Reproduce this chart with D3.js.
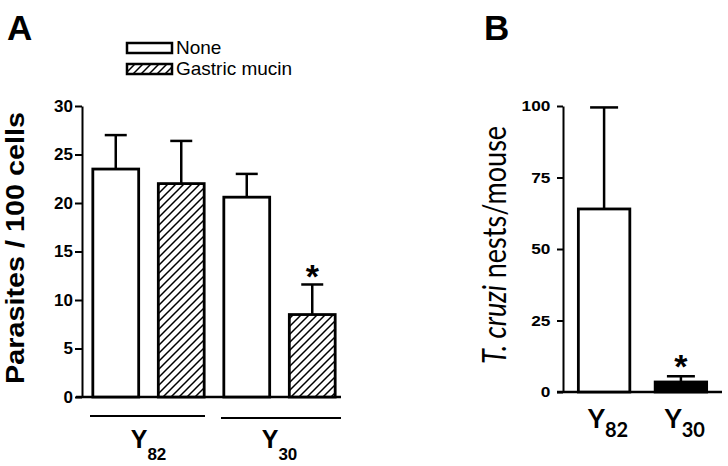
<!DOCTYPE html>
<html>
<head>
<meta charset="utf-8">
<script src="https://cdn.jsdelivr.net/npm/d3@7"></script>
<style>
  body { margin: 0; background: #fff; }
  svg { display: block; }
  .axA path, .axA line, .axB path, .axB line { stroke: #000; stroke-width: 2; }
</style>
</head>
<body>
<div id="chart"></div>
<script>
// panel A data
var groupsA = ["Y82", "Y30"];
var treatments = ["None", "Gastric mucin"];
var noneMean = [23.5, 20.6];
var noneErr = [3.5, 2.4];
var mucinMean = [22.0, 8.5];
var mucinErr = [4.4, 3.1];
var sigA = [false, true]; // star only over mucin/Y30
var ticksA = [0, 5, 10, 15, 20, 25, 30];

// panel B data
var strainsB = ["Y82", "Y30"];
var nestsMean = [64, 3.5];
var nestsErr = [35.5, 2.0];
var sigB = [false, true];
var ticksB = [0, 25, 50, 75, 100];

var svg = d3.select("#chart").append("svg")
  .attr("width", 728)
  .attr("height", 466);

var defs = svg.append("defs");
var pat = defs.append("pattern")
  .attr("id", "hatch")
  .attr("patternUnits", "userSpaceOnUse")
  .attr("width", 8)
  .attr("height", 8);
pat.append("rect").attr("width", 8).attr("height", 8).attr("fill", "#fff");
pat.append("path")
  .attr("d", "M-2,2 l4,-4 M0,8 l8,-8 M6,10 l4,-4")
  .attr("stroke", "#000")
  .attr("stroke-width", 1.5);

// ---------------- Panel A ----------------
var rowsA = [];
groupsA.forEach(function (g, i) {
  rowsA.push({ group: g, trt: "None", mean: noneMean[i], err: noneErr[i], sig: false });
  rowsA.push({ group: g, trt: "Gastric mucin", mean: mucinMean[i], err: mucinErr[i], sig: sigA[i] });
});

var yA = d3.scaleLinear().domain([0, 30]).range([397, 106]);
var x0 = d3.scaleBand().domain(groupsA).range([83, 345]);
var x1 = d3.scaleBand().domain(treatments).range([0, x0.bandwidth()])
  .paddingInner(0.3).paddingOuter(0.15);

var gA = svg.append("g");

gA.append("g")
  .attr("class", "axA")
  .attr("transform", "translate(82,0)")
  .call(d3.axisLeft(yA).tickValues(ticksA).tickSize(7).tickSizeOuter(0).tickPadding(2))
  .attr("font-size", 17)
  .attr("font-weight", "bold")
  .attr("font-family", "Liberation Sans, Arial, sans-serif")
  .selectAll("text").attr("fill", "#000");

gA.append("line")
  .attr("x1", 76).attr("x2", 341)
  .attr("y1", yA(0)).attr("y2", yA(0))
  .attr("stroke", "#000").attr("stroke-width", 2.5);

var barsA = gA.selectAll(".barA").data(rowsA).enter().append("g");

// error bars (upper only)
barsA.append("line")
  .attr("x1", d => x0(d.group) + x1(d.trt) + x1.bandwidth() / 2)
  .attr("x2", d => x0(d.group) + x1(d.trt) + x1.bandwidth() / 2)
  .attr("y1", d => yA(d.mean))
  .attr("y2", d => yA(d.mean + d.err))
  .attr("stroke", "#000").attr("stroke-width", 2.5);
barsA.append("line")
  .attr("x1", d => x0(d.group) + x1(d.trt) + x1.bandwidth() / 2 - 11)
  .attr("x2", d => x0(d.group) + x1(d.trt) + x1.bandwidth() / 2 + 11)
  .attr("y1", d => yA(d.mean + d.err))
  .attr("y2", d => yA(d.mean + d.err))
  .attr("stroke", "#000").attr("stroke-width", 2.5);

barsA.append("rect")
  .attr("x", d => x0(d.group) + x1(d.trt))
  .attr("y", d => yA(d.mean))
  .attr("width", x1.bandwidth())
  .attr("height", d => yA(0) - yA(d.mean))
  .attr("fill", d => d.trt === "None" ? "#fff" : "url(#hatch)")
  .attr("stroke", "#000")
  .attr("stroke-width", 2.8);

barsA.filter(d => d.sig).append("text")
  .attr("x", d => x0(d.group) + x1(d.trt) + x1.bandwidth() / 2)
  .attr("y", d => yA(d.mean + d.err) + 4)
  .attr("text-anchor", "middle")
  .style("font-family", "Liberation Sans, Arial, sans-serif")
  .style("font-weight", "bold")
  .style("font-size", "34px")
  .text("*");

// group underlines and labels
var grpA = gA.selectAll(".grpA").data(groupsA).enter().append("g");
grpA.append("line")
  .attr("x1", d => x0(d) + 7)
  .attr("x2", (d, i) => x0(d) + (i === 0 ? 122 : 127))
  .attr("y1", (d, i) => 416 + i * 2)
  .attr("y2", (d, i) => 416 + i * 2)
  .attr("stroke", "#000").attr("stroke-width", 2);
var labA = grpA.append("text")
  .attr("x", d => x0(d) + x0.bandwidth() / 2)
  .attr("y", 448)
  .attr("text-anchor", "middle")
  .style("font-family", "Liberation Sans, Arial, sans-serif")
  .style("font-weight", "bold");
labA.append("tspan").style("font-size", "25px").text("Y");
labA.append("tspan").style("font-size", "17px").attr("dy", 12).text(d => d.slice(1));

gA.append("text")
  .attr("transform", "translate(24,248) rotate(-90)")
  .attr("text-anchor", "middle")
  .attr("textLength", 272)
  .attr("lengthAdjust", "spacingAndGlyphs")
  .style("font-family", "Liberation Sans, Arial, sans-serif")
  .style("font-weight", "bold")
  .style("font-size", "25px")
  .text("Parasites / 100 cells");

// legend
var leg = gA.selectAll(".leg").data(treatments).enter().append("g")
  .attr("transform", (d, i) => "translate(127," + (43 + i * 21) + ")");
leg.append("rect")
  .attr("width", 45).attr("height", 10)
  .attr("fill", d => d === "None" ? "#fff" : "url(#hatch)")
  .attr("stroke", "#000").attr("stroke-width", 2.5);
leg.append("text")
  .attr("x", 49).attr("y", 11)
  .style("font-family", "Liberation Sans, Arial, sans-serif")
  .style("font-size", "19px")
  .text(d => d);

svg.append("text")
  .attr("x", 7).attr("y", 40)
  .style("font-family", "Liberation Sans, Arial, sans-serif")
  .style("font-weight", "bold")
  .style("font-size", "35px")
  .text("A");

// ---------------- Panel B ----------------
var yB = d3.scaleLinear().domain([0, 100]).range([392, 106]);
var xB = d3.scaleBand().domain(strainsB).range([563, 722])
  .paddingInner(0.33).paddingOuter(0.2);

var gB = svg.append("g");

gB.append("g")
  .attr("class", "axB")
  .attr("transform", "translate(563,0)")
  .call(d3.axisLeft(yB).tickValues(ticksB).tickSize(6).tickSizeOuter(0).tickPadding(5))
  .attr("font-size", 15)
  .attr("font-weight", "bold")
  .attr("font-family", "Liberation Sans, Arial, sans-serif")
  .selectAll("text")
  .attr("fill", "#000")
  .attr("transform", "scale(1.15,1)");

gB.append("line")
  .attr("x1", 557).attr("x2", 722)
  .attr("y1", yB(0)).attr("y2", yB(0))
  .attr("stroke", "#000").attr("stroke-width", 2.5);

var rowsB = strainsB.map((s, i) => ({ strain: s, mean: nestsMean[i], err: nestsErr[i], sig: sigB[i] }));
var barsB = gB.selectAll(".barB").data(rowsB).enter().append("g");

barsB.append("line")
  .attr("x1", d => xB(d.strain) + xB.bandwidth() / 2)
  .attr("x2", d => xB(d.strain) + xB.bandwidth() / 2)
  .attr("y1", d => yB(d.mean))
  .attr("y2", d => yB(d.mean + d.err))
  .attr("stroke", "#000").attr("stroke-width", 2.5);
barsB.append("line")
  .attr("x1", d => xB(d.strain) + xB.bandwidth() / 2 - 14)
  .attr("x2", d => xB(d.strain) + xB.bandwidth() / 2 + 14)
  .attr("y1", d => yB(d.mean + d.err))
  .attr("y2", d => yB(d.mean + d.err))
  .attr("stroke", "#000").attr("stroke-width", 2.5);

barsB.append("rect")
  .attr("x", d => xB(d.strain))
  .attr("y", d => yB(d.mean))
  .attr("width", xB.bandwidth())
  .attr("height", d => yB(0) - yB(d.mean))
  .attr("fill", (d, i) => i === 0 ? "#fff" : "#000")
  .attr("stroke", "#000")
  .attr("stroke-width", 2.8);

barsB.filter(d => d.sig).append("text")
  .attr("x", d => xB(d.strain) + xB.bandwidth() / 2)
  .attr("y", d => yB(d.mean + d.err) + 1.5)
  .attr("text-anchor", "middle")
  .style("font-family", "Liberation Sans, Arial, sans-serif")
  .style("font-weight", "bold")
  .style("font-size", "34px")
  .text("*");

var labB = barsB.append("text")
  .attr("x", d => xB(d.strain) + xB.bandwidth() / 2 + 4)
  .attr("y", 428)
  .attr("text-anchor", "middle")
  .style("font-family", "Lato, sans-serif")
  .style("font-weight", "bold");
labB.append("tspan").style("font-size", "26px").text("Y");
labB.append("tspan").style("font-size", "20px").attr("dy", 9).text(d => d.strain.slice(1));

var titleB = gB.append("text")
  .attr("transform", "translate(506,245) scale(1.2,1) rotate(-90)")
  .attr("text-anchor", "middle")
  .style("font-family", "Lato, sans-serif")
  .style("font-size", "27px");
titleB.append("tspan").style("font-style", "italic").text("T. cruzi");
titleB.append("tspan").text("  nests/mouse");

svg.append("text")
  .attr("x", 484).attr("y", 40)
  .style("font-family", "Liberation Sans, Arial, sans-serif")
  .style("font-weight", "bold")
  .style("font-size", "35px")
  .text("B");
</script>
</body>
</html>
